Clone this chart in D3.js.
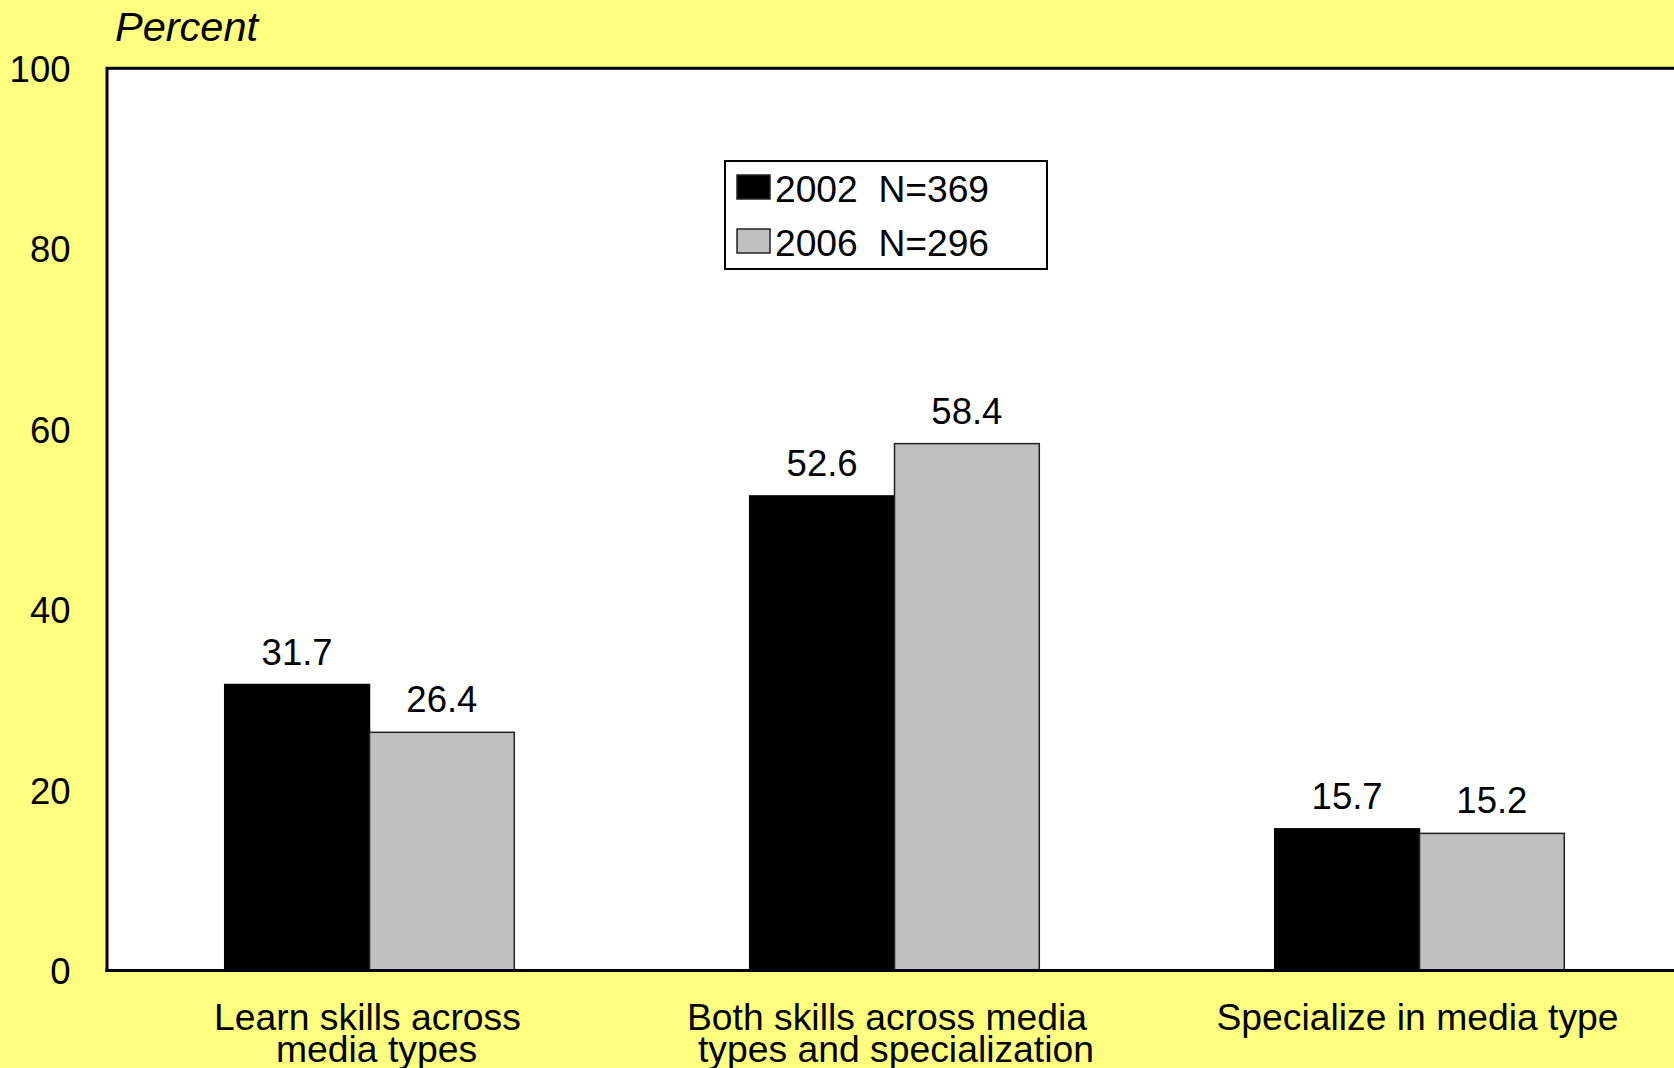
<!DOCTYPE html>
<html>
<head>
<meta charset="utf-8">
<script src="https://cdn.jsdelivr.net/npm/d3@7/dist/d3.min.js"></script>
<style>
  html, body { margin: 0; padding: 0; background: #ffff80; overflow: hidden; }
  svg { display: block; }
  text { font-family: "Liberation Sans", Arial, sans-serif; fill: #000; }
</style>
</head>
<body>
<svg id="chart" width="1674" height="1068"></svg>
<script>
// ---- data ----
const categories = ["Learn skills across media types", "Both skills across media types and specialization", "Specialize in media type"];
const categoryLines = [["Learn skills across", "media types"], ["Both skills across media", "types and specialization"], ["Specialize in media type"]];
const seriesNames = ["2002", "2006"];
const seriesLabels = ["2002  N=369", "2006  N=296"];
const values2002 = [31.7, 52.6, 15.7];
const values2006 = [26.4, 58.4, 15.2];
const yTicks = [0, 20, 40, 60, 80, 100];
const yTitle = "Percent";

// ---- layout ----
const W = 1674, H = 1068;
const plotLeft = 107, plotRight = 1682, plotTop = 68.3, plotBottom = 970.5;
const fontSize = 36.5;
const labelFont = 37.3;
const labelShift = [-2, -7.5, -2];
const colors = { "2002": "#000000", "2006": "#c0c0c0" };

const svg = d3.select("#chart");
svg.append("rect").attr("width", W).attr("height", H).attr("fill", "#ffff80");

const y = d3.scaleLinear().domain([0, 100]).range([plotBottom, plotTop]);
const x0 = d3.scaleBand().domain(categories).range([plotLeft, plotRight]).paddingInner(0).paddingOuter(0);
const x1 = d3.scaleBand().domain(seriesNames).range([0, x0.bandwidth()]).paddingInner(0).paddingOuter(0.813);

// plot area
svg.append("rect")
  .attr("x", plotLeft).attr("y", plotTop)
  .attr("width", plotRight - plotLeft).attr("height", plotBottom - plotTop)
  .attr("fill", "#fff").attr("stroke", "#000").attr("stroke-width", 3);

// y axis
const yAxis = d3.axisLeft(y).tickValues(yTicks).tickSize(0).tickPadding(plotLeft - 70.5);
const gy = svg.append("g").attr("transform", `translate(${plotLeft},0)`).call(yAxis);
gy.select(".domain").remove();
gy.selectAll("text")
  .style("font-family", "'Liberation Sans', Arial, sans-serif")
  .style("font-size", fontSize + "px")
  .attr("fill", "#000")
  .attr("dy", "0.36em");

// y title
svg.append("text")
  .attr("x", 115).attr("y", 41)
  .style("font-size", "41.5px").style("font-style", "italic")
  .text(yTitle);

// bars
const rows = categories.map((c, i) => ({
  cat: c,
  vals: [{ s: "2002", v: values2002[i] }, { s: "2006", v: values2006[i] }]
}));

const groups = svg.append("g").selectAll("g").data(rows).join("g")
  .attr("transform", d => `translate(${x0(d.cat)},0)`);

groups.selectAll("rect").data(d => d.vals).join("rect")
  .attr("x", d => x1(d.s))
  .attr("y", d => y(d.v))
  .attr("width", x1.bandwidth())
  .attr("height", d => y(0) - y(d.v))
  .attr("fill", d => colors[d.s])
  .attr("stroke", d => d.s === "2002" ? "#000" : "#222")
  .attr("stroke-width", 1.5);

groups.selectAll("text.val").data(d => d.vals).join("text")
  .attr("class", "val")
  .attr("x", d => x1(d.s) + x1.bandwidth() / 2)
  .attr("y", d => y(d.v) - 20)
  .attr("text-anchor", "middle")
  .style("font-size", fontSize + "px")
  .text(d => d.v.toFixed(1));

// redraw bottom axis line over bars
svg.append("line")
  .attr("x1", plotLeft - 1.5).attr("x2", plotRight)
  .attr("y1", plotBottom).attr("y2", plotBottom)
  .attr("stroke", "#000").attr("stroke-width", 3);

// category labels
categories.forEach((c, i) => {
  const cx = x0(c) + x0.bandwidth() / 2 + labelShift[i];
  const t = svg.append("text")
    .attr("text-anchor", "middle")
    .style("font-size", labelFont + "px");
  categoryLines[i].forEach((line, j) => {
    t.append("tspan")
      .attr("x", cx + (j === 1 ? 9 : 0))
      .attr("y", 1030 + j * 31.5)
      .text(line);
  });
});

// legend
const lg = svg.append("g");
lg.append("rect")
  .attr("x", 725).attr("y", 161).attr("width", 322).attr("height", 108)
  .attr("fill", "#fff").attr("stroke", "#000").attr("stroke-width", 2);
seriesNames.forEach((s, i) => {
  const yy = 175 + i * 54;
  lg.append("rect")
    .attr("x", 737).attr("y", yy).attr("width", 33).attr("height", 24)
    .attr("fill", colors[s]).attr("stroke", "#222").attr("stroke-width", 1.5);
  lg.append("text")
    .attr("x", 775).attr("y", yy + 27)
    .style("font-size", "37.2px")
    .style("white-space", "pre")
    .attr("xml:space", "preserve")
    .text(seriesLabels[i]);
});
</script>
</body>
</html>
